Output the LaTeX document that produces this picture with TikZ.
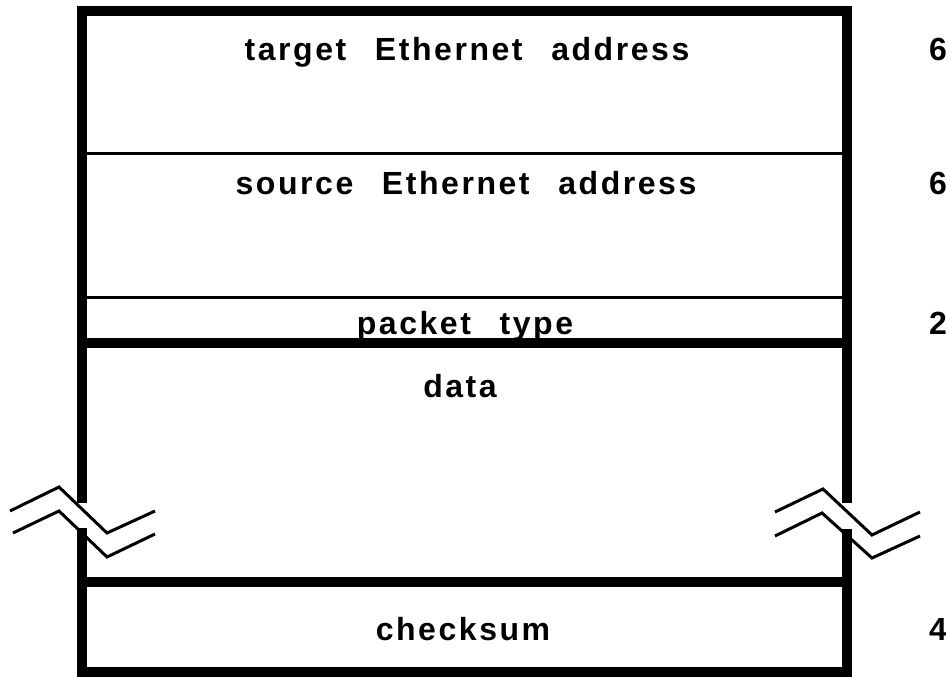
\documentclass[tikz,border=0pt]{standalone}
\usepackage{fontspec}
\newfontfamily\fieldfont{Liberation Sans}[LetterSpace=8,WordSpace=2.5]
\usetikzlibrary{positioning}

\begin{document}
\begin{tikzpicture}[x=1pt,y=-1pt]
  \tikzstyle{field}=[font=\fieldfont\bfseries\fontsize{32}{36}\selectfont,inner sep=0pt,anchor=base]
  \tikzstyle{bytes}=[field,anchor=base west]
  \tikzstyle{heavy}=[line width=10pt,line join=miter]
  \tikzstyle{light}=[line width=3pt]
  \tikzstyle{cut}=[line width=3pt,line join=miter]

  \useasboundingbox (0,0) rectangle (946,677);

  % frame, broken on both sides
  \draw[heavy] (82,503) -- (82,11) -- (847,11) -- (847,503);
  \draw[heavy] (82,528) -- (82,672) -- (847,672) -- (847,529);

  % field borders
  \draw[light] (82,153) -- (847,153);
  \draw[light] (82,297) -- (847,297);
  \draw[heavy] (82,343) -- (847,343);
  \draw[heavy] (82,582) -- (847,582);

  % break marks
  \draw[cut] (10,511) -- (59,487) -- (107,533) -- (155,511);
  \draw[cut] (13,533) -- (59,511) -- (107,557) -- (155,534);
  \draw[cut] (775,512) -- (823,489) -- (872,535) -- (920,512);
  \draw[cut] (775,536) -- (822,513) -- (872,558) -- (920,536);

  \node[field] (tgt)  at (467,61)  {target Ethernet address};
  \node[field] (src)  at (466,194) {source Ethernet address};
  \node[field] (type) at (465,334) {packet type};
  \node[field] (data) at (460,397) {data};
  \node[field] (csum) at (463,640) {checksum};

  \node[bytes] (tgt-n)  at (929,61)  {6};
  \node[bytes] (src-n)  at (929,194) {6};
  \node[bytes] (type-n) at (929,334) {2};
  \node[bytes] (csum-n) at (929,640) {4};
\end{tikzpicture}
\end{document}
